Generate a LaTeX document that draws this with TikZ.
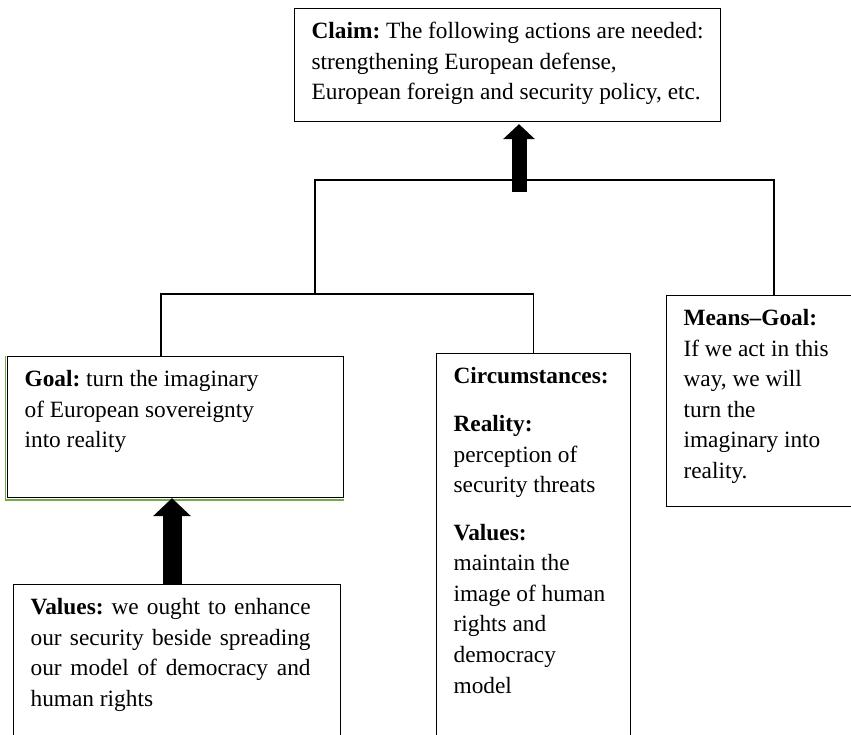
\documentclass[tikz,border=0pt]{standalone}
\usepackage{fontspec}
\setmainfont{Liberation Serif}
\usetikzlibrary{arrows.meta}
\definecolor{wordgreen}{RGB}{112,173,71}
\newcommand{\boxtext}[3]{\parbox[t][#2][t]{#1}{\raggedright\frenchspacing\leftskip=12.75pt\rule{0pt}{22.5pt}#3}}

\begin{document}
\begin{tikzpicture}[x=0.75pt,y=-0.75pt,
    box/.style={draw,rectangle,anchor=north west,inner sep=0pt,line width=0.9pt,
      font=\fontsize{17.5pt}{22.9pt}\selectfont},
    link/.style={line width=1.2pt},
    fat/.style={line width=11.25pt,-{Triangle[length=11.25pt,width=24pt,line width=0pt]}},
    fatter/.style={line width=14.25pt,-{Triangle[length=13.5pt,width=28.5pt,line width=0pt]}}]
  \useasboundingbox (0,0) rectangle (851,735); \clip (0,0) rectangle (851,735);

  \node[box] (claim) at (294,8) {\boxtext{319.5pt}{84.75pt}{\textbf{Claim:} The
      following actions are needed:\\ strengthening European defense,\\ European
      foreign and security policy, etc.}};
  \node[box] (goal) at (7,356) {\boxtext{252pt}{105.75pt}{\textbf{Goal:} turn the
      imaginary\\ of European sovereignty\\ into reality}};
  \node[box] (val) at (13,584) {\boxtext{245.25pt}{127.5pt}{\rightskip=22.5pt\relax
      \textbf{Values:} we ought to enhance\linebreak our security beside
      spreading\linebreak our model of democracy and\linebreak human rights}};
  \node[box] (circ) at (436,353) {\boxtext{145.5pt}{300pt}{\textbf{Circumstances:}\\[13pt]
      \textbf{Reality:}\\ perception of\\ security threats\\[13pt] \textbf{Values:}\\
      maintain the\\ image of human\\ rights and\\ democracy\\ model}};
  \node[box] (means) at (666,295) {\boxtext{146.25pt}{158.25pt}{\textbf{Means–Goal:}\\
      If we act in this\\ way, we will\\ turn the\\ imaginary into\\ reality.}};

  \draw[wordgreen,line width=1.2pt] ([xshift=-1.2pt]goal.north west) |- ([yshift=-1.2pt]goal.south east);

  \coordinate (j) at (315,294); \coordinate (tr) at (774,180);
  \coordinate (bl) at (161,294);
  \draw[link] (j) |- (tr) -- (tr |- means.north);
  \draw[link] (bl |- goal.north) -- (bl) -- (circ.north |- bl) -- (circ.north);

  \coordinate (a1) at (519,192); \coordinate (a2) at (172,0);
  \draw[fat,shorten >=1.5pt] (a1) -- (a1 |- claim.south);
  \draw[fatter] (a2 |- val.north) -- (a2 |- goal.south);
\end{tikzpicture}
\end{document}
